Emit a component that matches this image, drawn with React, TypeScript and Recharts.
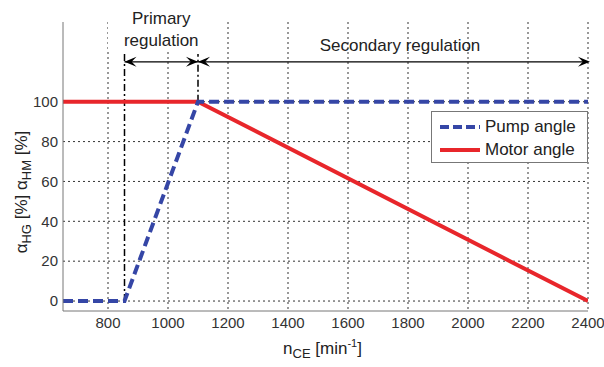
import React from 'react';
import {
  LineChart,
  Line,
  XAxis,
  YAxis,
  CartesianGrid,
  Legend,
  ReferenceLine,
  Label,
} from 'recharts';

// operating points (speed in 1/min, angle in %)
const pumpSpeed = [650, 855, 1100, 2400];
const pumpAngle = [0, 0, 100, 100];
const motorSpeed = [650, 1100, 2400];
const motorAngle = [100, 100, 0];

const xTicks = [800, 1000, 1200, 1400, 1600, 1800, 2000, 2200, 2400];
const yTicks = [0, 20, 40, 60, 80, 100];

const xDomain: [number, number] = [650, 2400];
const yDomain: [number, number] = [-5, 140];

const primaryStart = 855;
const regulationSwitch = 1100;
const speedMax = 2400;
const arrowLevel = 120;
const markerTop = 124;

const pumpData = pumpSpeed.map((n, i) => ({ n, pump: pumpAngle[i] }));
const motorData = motorSpeed.map((n, i) => ({ n, motor: motorAngle[i] }));

const BLUE = '#3546a6';
const RED = '#e8262b';
const FONT = '"Liberation Sans", Arial, sans-serif';

// grid lines only at the labelled ticks
const gridX = (p: any) => {
  const s = p.xAxis && p.xAxis.scale;
  if (typeof s === 'function') return xTicks.map((t) => s(t));
  const o = p.offset;
  return xTicks.map((t) => o.left + ((t - xDomain[0]) / (xDomain[1] - xDomain[0])) * o.width);
};
const gridY = (p: any) => {
  const s = p.yAxis && p.yAxis.scale;
  if (typeof s === 'function') return yTicks.map((t) => s(t));
  const o = p.offset;
  return yTicks.map((t) => o.top + ((yDomain[1] - t) / (yDomain[1] - yDomain[0])) * o.height);
};

const arrowHead = (x: number, y: number, dir: number) => {
  const l = 12;
  const w = 5;
  return (
    <polygon
      points={`${x},${y} ${x - dir * l},${y - w} ${x - dir * l * 0.6},${y} ${x - dir * l},${y + w}`}
      fill="#000"
    />
  );
};

const PrimaryArrow = (props: any) => {
  const { x1, y1, x2 } = props;
  const mid = (x1 + x2) / 2;
  return (
    <g>
      <rect x={108} y={0} width={104} height={52} fill="#fff" />
      <text x={mid} y={24} textAnchor="middle" fontSize={17} fontFamily={FONT} fill="#222">Primary</text>
      <text x={mid} y={46} textAnchor="middle" fontSize={17} fontFamily={FONT} fill="#222">regulation</text>
      <line x1={x1} y1={y1} x2={x2} y2={y1} stroke="#000" strokeWidth={1.3} />
      {arrowHead(x1, y1, -1)}
      {arrowHead(x2, y1, 1)}
    </g>
  );
};

const SecondaryArrow = (props: any) => {
  const { x1, y1, x2 } = props;
  const mid = (x1 + x2) / 2;
  return (
    <g>
      <text x={mid + 7} y={51} textAnchor="middle" fontSize={17} fontFamily={FONT} fill="#222">Secondary regulation</text>
      <line x1={x1} y1={y1} x2={x2} y2={y1} stroke="#000" strokeWidth={1.3} />
      {arrowHead(x1, y1, -1)}
      {arrowHead(x2 + 2, y1, 1)}
    </g>
  );
};

const LegendBox = () => (
  <div
    style={{
      border: '1px solid #777',
      background: '#fff',
      width: 157,
      height: 52,
      fontFamily: FONT,
      fontSize: 17,
      color: '#222',
      boxSizing: 'border-box',
      padding: '3px 0 0 8px',
      textAlign: 'left',
    }}
  >
    <div style={{ display: 'flex', alignItems: 'center', height: 23 }}>
      <svg width={40} height={6} style={{ marginRight: 5 }}>
        <line x1={0} y1={3} x2={40} y2={3} stroke={BLUE} strokeWidth={4} strokeDasharray="9 4" />
      </svg>
      Pump angle
    </div>
    <div style={{ display: 'flex', alignItems: 'center', height: 23 }}>
      <svg width={40} height={6} style={{ marginRight: 5 }}>
        <line x1={0} y1={3} x2={40} y2={3} stroke={RED} strokeWidth={4} />
      </svg>
      Motor angle
    </div>
  </div>
);

const XTitle = (props: any) => {
  const vb = props.viewBox;
  const cx = vb.x + vb.width / 2;
  return (
    <text x={cx - 3} y={354} textAnchor="middle" fontSize={17} fontFamily={FONT} fill="#222">
      n<tspan fontSize={13} dy={4}>CE</tspan>
      <tspan dy={-4}> [min</tspan>
      <tspan fontSize={11} dy={-7}>-1</tspan>
      <tspan dy={7}>]</tspan>
    </text>
  );
};

const YTitle = () => (
  <text
    x={0}
    y={0}
    transform="translate(27,192) rotate(-90)"
    textAnchor="middle"
    fontSize={17}
    fontFamily={FONT}
    fill="#222"
  >
    α<tspan fontSize={13} dy={4}>HG</tspan>
    <tspan dy={-4}> [%] α</tspan>
    <tspan fontSize={13} dy={4}>HM</tspan>
    <tspan dy={-4}> [%]</tspan>
  </text>
);

const App: React.FC = () => {
  return (
    <div style={{ position: 'absolute', left: 0, top: 0, width: 604, height: 367, background: '#fff' }}>
      <LineChart width={604} height={367} margin={{ top: 22, right: 16, left: 13, bottom: 26 }}>
        <CartesianGrid
          stroke="#333"
          strokeDasharray="2 3"
          strokeWidth={1}
          verticalCoordinatesGenerator={gridX}
          horizontalCoordinatesGenerator={gridY}
        />
        <XAxis
          type="number"
          dataKey="n"
          domain={xDomain}
          ticks={xTicks}
          allowDataOverflow
          height={30}
          stroke="#777"
          tickLine={false}
          tickSize={0}
          tick={{ fill: '#333', fontSize: 15, fontFamily: FONT }}
          tickMargin={6}
        >
          <Label content={<XTitle />} />
        </XAxis>
        <XAxis
          xAxisId="top"
          orientation="top"
          type="number"
          domain={xDomain}
          ticks={xTicks}
          allowDataOverflow
          height={0}
          tick={false}
          tickLine={false}
          stroke="#777"
        />
        <YAxis
          type="number"
          domain={yDomain}
          ticks={yTicks}
          allowDataOverflow
          width={50}
          stroke="#777"
          tickLine={false}
          tickSize={0}
          tick={{ fill: '#333', fontSize: 15, fontFamily: FONT }}
          tickMargin={5}
        >
          <Label content={<YTitle />} />
        </YAxis>
        <YAxis
          yAxisId="right"
          orientation="right"
          type="number"
          domain={yDomain}
          ticks={yTicks}
          allowDataOverflow
          width={0}
          tick={false}
          tickLine={false}
          stroke="#777"
        />
        <Legend
          layout="vertical"
          align="center"
          verticalAlign="middle"
          content={<LegendBox />}
          wrapperStyle={{ top: 111, left: 431, width: 157 }}
        />
        <ReferenceLine
          segment={[{ x: primaryStart, y: 0 }, { x: primaryStart, y: markerTop }]}
          stroke="#000"
          strokeWidth={1.5}
          strokeDasharray="7 3 2 3"
        />
        <ReferenceLine
          segment={[{ x: regulationSwitch, y: 100 }, { x: regulationSwitch, y: markerTop }]}
          stroke="#000"
          strokeWidth={1.5}
          strokeDasharray="7 3 2 3"
        />
        <ReferenceLine
          segment={[{ x: primaryStart, y: arrowLevel }, { x: regulationSwitch, y: arrowLevel }]}
          shape={<PrimaryArrow />}
        />
        <ReferenceLine
          segment={[{ x: regulationSwitch, y: arrowLevel }, { x: speedMax, y: arrowLevel }]}
          shape={<SecondaryArrow />}
        />
        <Line
          data={motorData}
          dataKey="motor"
          type="linear"
          stroke={RED}
          strokeWidth={4}
          dot={false}
          isAnimationActive={false}
        />
        <Line
          data={pumpData}
          dataKey="pump"
          type="linear"
          stroke={BLUE}
          strokeWidth={4}
          strokeDasharray="10 5"
          dot={false}
          isAnimationActive={false}
        />
      </LineChart>
    </div>
  );
};

export default App;
